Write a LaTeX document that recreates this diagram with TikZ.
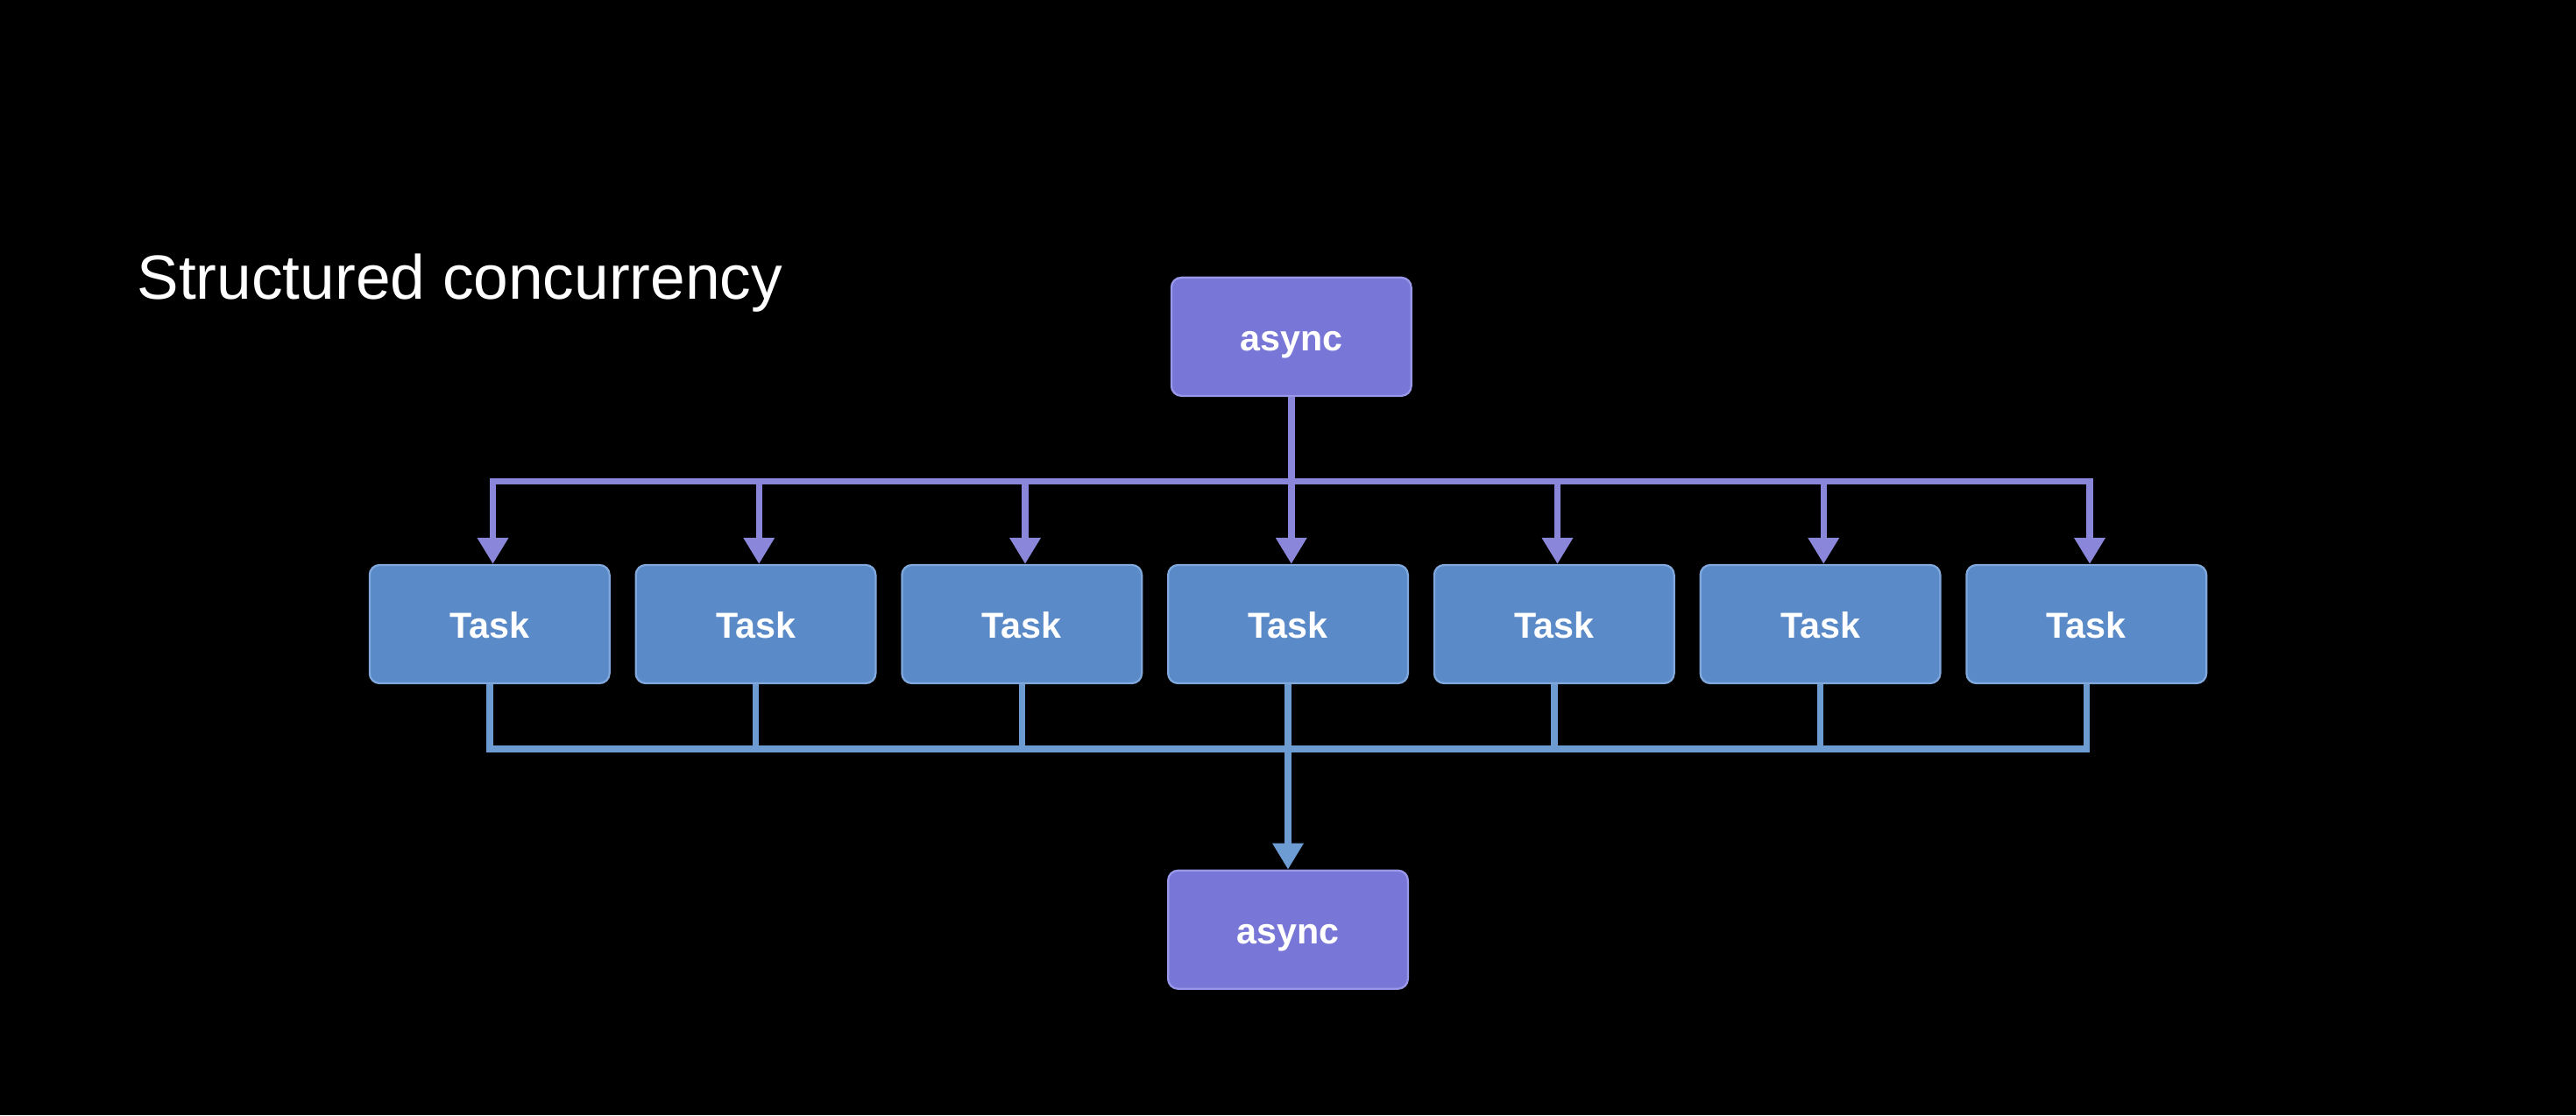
\documentclass[tikz,border=0pt]{standalone}
\usepackage{fontspec}
\setmainfont{Liberation Sans}
\usetikzlibrary{arrows.meta}
\definecolor{asyncfill}{HTML}{7876D6}
\definecolor{asyncline}{HTML}{9A98EA}
\definecolor{taskfill}{HTML}{5A8AC8}
\definecolor{taskline}{HTML}{80A8DC}
\definecolor{topwire}{HTML}{8A86DA}
\definecolor{botwire}{HTML}{6C9CD2}
\tikzset{
  async/.style={draw=asyncline,fill=asyncfill,line width=1.2pt,rounded corners=6pt,
    minimum width=146pt,minimum height=72pt,text height=17pt,text depth=0pt,
    text=white,font=\fontsize{22}{26}\selectfont\bfseries},
  task/.style={draw=taskline,fill=taskfill,line width=1.2pt,rounded corners=6pt,
    minimum width=146pt,minimum height=72pt,text height=17pt,text depth=0pt,
    text=white,font=\fontsize{22}{26}\selectfont\bfseries},
  wire/.style={line width=4pt},
  tip/.style={-{Triangle[length=16pt,width=18pt]}}
}
\begin{document}
\begin{tikzpicture}[x=1pt,y=-1pt]
\fill[black] (0,0) rectangle (1568,679);
\node[anchor=base west,text=white,font=\fontsize{38}{44}\selectfont] (title) at (80,182) {Structured concurrency};
\node[async] (top) at (786,205) {async};
\node[async] (bot) at (784,566) {async};
%
\foreach \i/\x in {1/298,2/460,3/622,4/784,5/946,6/1108,7/1270}{
  \node[task] (t\i) at (\x,380) {Task};
  \coordinate (u\i) at (\x+2,293);
  \coordinate (l\i) at (\x,456);
}
%
\draw[wire,topwire] (top.south) -- (u4 -| top.south);
\draw[wire,topwire,line cap=rect] (u1) -- (u7);
\foreach \i in {1,...,7}{
  \draw[wire,topwire,tip] (u\i) -- (u\i |- t\i.north);
  \draw[wire,botwire] (t\i.south) -- (l\i);
}
\draw[wire,botwire,line cap=rect] (l1) -- (l7);
\draw[wire,botwire,tip] (l4) -- (bot.north);
\end{tikzpicture}
\end{document}
